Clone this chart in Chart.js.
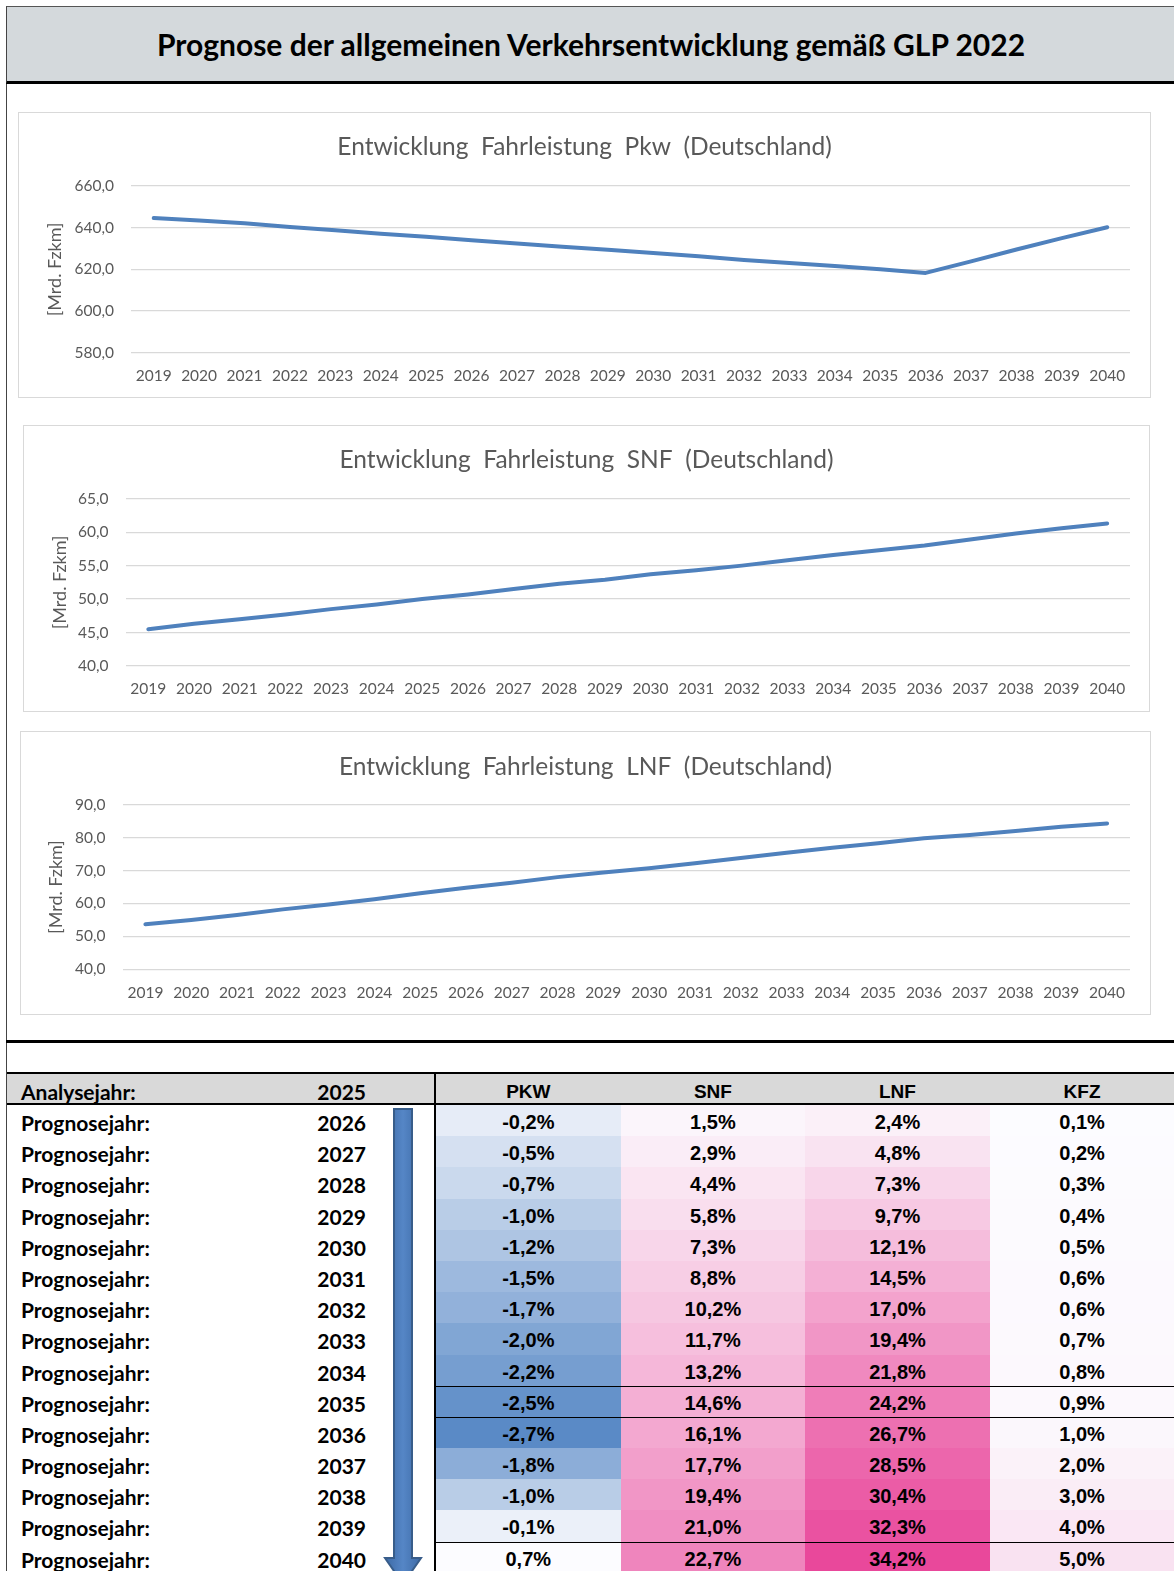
<!DOCTYPE html>
<html lang="de">
<head>
<meta charset="utf-8">
<title>Prognose Verkehrsentwicklung GLP 2022</title>
<script src="https://cdn.jsdelivr.net/npm/chart.js@4.4.1/dist/chart.umd.min.js"></script>
<style>
  html, body { margin: 0; padding: 0; background: #fff; }
  body { width: 1174px; height: 1571px; position: relative; overflow: hidden; font-family: Lato, sans-serif; }
  #frame-left { position: absolute; left: 6px; top: 6px; width: 1px; height: 1600px; background: #444; }
  #kopf { position: absolute; left: 6px; top: 6px; width: 1168px; height: 74px; box-sizing: content-box;
          background: #d4d9dc; border-top: 1px solid #555; border-bottom: 3px solid #000; border-left: 1px solid #444;
          display: flex; align-items: center; justify-content: center;
          font-weight: bold; font-size: 30px; color: #000; }
  canvas.diagramm { position: absolute; outline: 1px solid #d9d9d9; outline-offset: -1px; }
  #trenner { position: absolute; left: 6px; top: 1040px; width: 1168px; height: 3px; background: #000; }
  #tabelle { position: absolute; left: 7px; top: 1072px; width: 1170px; border-top: 2px solid #000; }
  .zeile { display: flex; height: 31.2px; box-sizing: border-box; }
  .kopfzeile { height: 31px; background: #d9d9d9; border-bottom: 2px solid #000; }
  .zelle { box-sizing: border-box; line-height: 31px; white-space: nowrap; }
  .z-text { width: 243px; padding-left: 14px; font-weight: bold; font-size: 21px; }
  .z-jahr { width: 116px; text-align: right; font-weight: bold; font-size: 21px; }
  .z-pfeil { width: 70px; border-right: 2px solid #000; }
  .z-wert { width: 184.6px; text-align: center; font-family: "Liberation Sans", Arial, sans-serif; font-weight: bold; font-size: 20px; }
  .kopfzeile .z-wert { font-size: 19px; }
  .zelle span { position: relative; top: 2px; }
  .linie .z-wert { box-shadow: inset 0 1px 0 #000; }
  #pfeil { position: absolute; left: 380px; top: 1106px; }
</style>
</head>
<body>
<div id="frame-left"></div>
<div id="kopf">Prognose der allgemeinen Verkehrsentwicklung gemäß GLP 2022</div>

<canvas id="pkwChart" class="diagramm"></canvas>
<canvas id="snfChart" class="diagramm"></canvas>
<canvas id="lnfChart" class="diagramm"></canvas>

<div id="trenner"></div>
<div id="tabelle"></div>
<svg id="pfeil" width="46" height="480">
  <defs>
    <linearGradient id="pfeilVerlauf" x1="0" x2="1" y1="0" y2="0">
      <stop offset="0" stop-color="#3d6aa6"/>
      <stop offset="0.5" stop-color="#5586c6"/>
      <stop offset="1" stop-color="#3d6aa6"/>
    </linearGradient>
  </defs>
  <path d="M14 3 L32 3 L32 452 L41 452 L23 478 L5 452 L14 452 Z" fill="url(#pfeilVerlauf)" stroke="#385d8a" stroke-width="2"/>
</svg>

<script>
// Fahrleistung in Mrd. Fzkm
const years = ['2019','2020','2021','2022','2023','2024','2025','2026','2027','2028','2029',
               '2030','2031','2032','2033','2034','2035','2036','2037','2038','2039','2040'];
const pkwFahrleistung = [644.6, 643.4, 642.1, 640.3, 638.8, 637.1, 635.6, 634.0, 632.4, 630.9, 629.4,
                         627.9, 626.3, 624.5, 623.0, 621.6, 620.0, 618.3, 623.8, 629.5, 635.0, 640.2];
const snfFahrleistung = [45.5, 46.3, 47.0, 47.7, 48.5, 49.2, 50.0, 50.7, 51.5, 52.3, 52.9,
                         53.7, 54.3, 55.0, 55.8, 56.6, 57.3, 58.0, 58.9, 59.8, 60.6, 61.3];
const lnfFahrleistung = [53.7, 55.0, 56.5, 58.2, 59.7, 61.3, 63.1, 64.8, 66.3, 68.0, 69.4,
                         70.7, 72.2, 73.8, 75.4, 76.9, 78.3, 79.8, 80.8, 82.0, 83.3, 84.3];
const pkwTicks = [580, 600, 620, 640, 660];
const snfTicks = [40, 45, 50, 55, 60, 65];
const lnfTicks = [40, 50, 60, 70, 80, 90];

// Tabelle: Veraenderung gegenueber Analysejahr 2025
const analysejahr = 2025;
const prognoseJahre = [2026, 2027, 2028, 2029, 2030, 2031, 2032, 2033, 2034, 2035, 2036, 2037, 2038, 2039, 2040];
const spalten = ['PKW', 'SNF', 'LNF', 'KFZ'];
const pkwVeraenderung = [-0.2, -0.5, -0.7, -1.0, -1.2, -1.5, -1.7, -2.0, -2.2, -2.5, -2.7, -1.8, -1.0, -0.1, 0.7];
const snfVeraenderung = [1.5, 2.9, 4.4, 5.8, 7.3, 8.8, 10.2, 11.7, 13.2, 14.6, 16.1, 17.7, 19.4, 21.0, 22.7];
const lnfVeraenderung = [2.4, 4.8, 7.3, 9.7, 12.1, 14.5, 17.0, 19.4, 21.8, 24.2, 26.7, 28.5, 30.4, 32.3, 34.2];
const kfzVeraenderung = [0.1, 0.2, 0.3, 0.4, 0.5, 0.6, 0.6, 0.7, 0.8, 0.9, 1.0, 2.0, 3.0, 4.0, 5.0];
const linienVor = [2035, 2036, 2040];

Chart.defaults.font.family = 'Lato';
Chart.defaults.color = '#595959';

const komma = v => v.toFixed(1).replace('.', ',');

function makeChart(id, titel, werte, ticks, box) {
  const canvas = document.getElementById(id);
  canvas.width = box.width;
  canvas.height = box.height;
  canvas.style.left = box.left + 'px';
  canvas.style.top = box.top + 'px';
  const titelLH = 24.5 * 1.2;
  return new Chart(canvas.getContext('2d'), {
    type: 'line',
    data: {
      labels: years,
      datasets: [{
        data: werte,
        borderColor: '#4f81bd',
        borderWidth: 4,
        borderCapStyle: 'round',
        borderJoinStyle: 'round',
        pointRadius: 0,
        tension: 0,
        fill: false
      }]
    },
    options: {
      responsive: false,
      animation: false,
      layout: { padding: 0 },
      plugins: {
        legend: { display: false },
        tooltip: { enabled: false },
        title: {
          display: true,
          text: titel,
          color: '#595959',
          font: { size: 24.5, weight: 'normal', lineHeight: 1.2 },
          padding: { top: box.titleY - titelLH / 2, bottom: box.plotTop - box.titleY - titelLH / 2 }
        }
      },
      scales: {
        x: {
          offset: true,
          grid: { display: false, drawTicks: false },
          border: { display: false },
          ticks: { color: '#595959', font: { size: 15.5 }, padding: 14, maxRotation: 0, autoSkip: false },
          afterFit: s => { s.height = box.xAxisH; }
        },
        y: {
          min: ticks[0],
          max: ticks[ticks.length - 1],
          grid: { color: '#d9d9d9', lineWidth: 1.3, drawTicks: false },
          border: { display: false },
          ticks: { color: '#595959', font: { size: 15.5 }, padding: 17, callback: v => komma(v) },
          afterBuildTicks: s => { s.ticks = ticks.map(v => ({ value: v })); },
          title: {
            display: true,
            text: '[Mrd. Fzkm]',
            color: '#595959',
            font: { size: 18, lineHeight: 1.2 },
            padding: { top: box.yTitleX - 10.8, bottom: 0 }
          },
          afterFit: s => { s.width = box.plotLeft; }
        },
        // leerer Rand rechts, damit der Titel mittig im Rahmen bleibt
        rand: {
          type: 'linear',
          position: 'right',
          grid: { display: false, drawTicks: false },
          border: { display: false },
          ticks: { display: false },
          afterFit: s => { s.width = box.padRight; }
        }
      }
    }
  });
}

makeChart('pkwChart', 'Entwicklung  Fahrleistung  Pkw  (Deutschland)', pkwFahrleistung, pkwTicks,
  { left: 18, top: 112, width: 1133, height: 286, plotLeft: 113, padRight: 21, plotTop: 74, xAxisH: 45.3, titleY: 35, yTitleX: 37.5 });
makeChart('snfChart', 'Entwicklung  Fahrleistung  SNF  (Deutschland)', snfFahrleistung, snfTicks,
  { left: 23, top: 425, width: 1127, height: 287, plotLeft: 102.5, padRight: 20, plotTop: 73.7, xAxisH: 46, titleY: 35.5, yTitleX: 37 });
makeChart('lnfChart', 'Entwicklung  Fahrleistung  LNF  (Deutschland)', lnfFahrleistung, lnfTicks,
  { left: 20, top: 731, width: 1131, height: 284, plotLeft: 102.5, padRight: 21, plotTop: 73.7, xAxisH: 45.7, titleY: 36.5, yTitleX: 36.6 });

// Farbskalen wie bedingte Formatierung
function mische(a, b, t) {
  t = Math.max(0, Math.min(1, t));
  const r = Math.round(a[0] + (b[0] - a[0]) * t);
  const g = Math.round(a[1] + (b[1] - a[1]) * t);
  const bl = Math.round(a[2] + (b[2] - a[2]) * t);
  return 'rgb(' + r + ',' + g + ',' + bl + ')';
}
const weiss = [252, 252, 255];
const blau = [90, 138, 198];
const pink = [233, 72, 155];
const pkwMin = Math.min(...pkwVeraenderung);
const pkwWeiss = 0.2;
const rest = snfVeraenderung.concat(lnfVeraenderung, kfzVeraenderung);
const restMin = Math.min(...rest), restMax = Math.max(...rest);
const blauFarbe = v => mische(weiss, blau, (pkwWeiss - v) / (pkwWeiss - pkwMin));
const pinkFarbe = v => mische(weiss, pink, (v - restMin) / (restMax - restMin));

const tabelle = document.getElementById('tabelle');
let html = '<div class="zeile kopfzeile">' +
  '<div class="zelle z-text"><span>Analysejahr:</span></div>' +
  '<div class="zelle z-jahr"><span>' + analysejahr + '</span></div>' +
  '<div class="zelle z-pfeil"></div>';
spalten.forEach(s => { html += '<div class="zelle z-wert"><span>' + s + '</span></div>'; });
html += '</div>';
prognoseJahre.forEach((jahr, i) => {
  const werte = [pkwVeraenderung[i], snfVeraenderung[i], lnfVeraenderung[i], kfzVeraenderung[i]];
  html += '<div class="zeile' + (linienVor.includes(jahr) ? ' linie' : '') + '">' +
    '<div class="zelle z-text"><span>Prognosejahr:</span></div>' +
    '<div class="zelle z-jahr"><span>' + jahr + '</span></div>' +
    '<div class="zelle z-pfeil"></div>';
  werte.forEach((v, k) => {
    const farbe = k === 0 ? blauFarbe(v) : pinkFarbe(v);
    html += '<div class="zelle z-wert" style="background:' + farbe + '"><span>' + komma(v) + '%</span></div>';
  });
  html += '</div>';
});
tabelle.innerHTML = html;
</script>
</body>
</html>
